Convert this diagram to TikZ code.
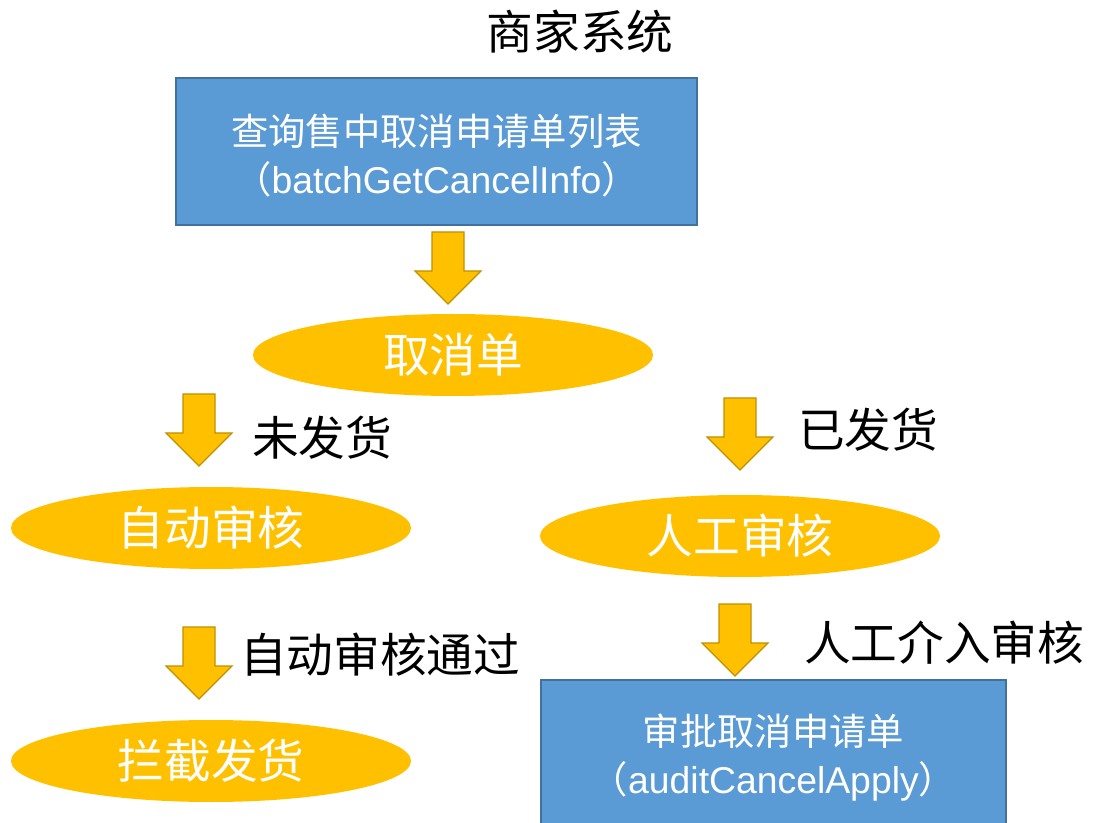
\documentclass[tikz,border=0pt]{standalone}
\usepackage{fontspec}
\setmainfont{Liberation Sans}
\newfontfamily\cjk{Noto Sans CJK SC}
\usetikzlibrary{shapes.geometric}
\definecolor{boxblue}{HTML}{5B9BD5}
\definecolor{boxedge}{HTML}{41719C}
\definecolor{gold}{HTML}{FFC000}
\definecolor{goldedge}{HTML}{BF9000}
\tikzset{
  bluebox/.style={rectangle, fill=boxblue, draw=boxedge, line width=1.5pt, inner sep=0pt},
  oval/.style={ellipse, fill=gold, inner sep=0pt, minimum width=300pt, minimum height=61.5pt,
    text=white, font=\cjk\fontsize{35pt}{40pt}\selectfont},
  boxtext/.style={text=white, align=center, font=\fontsize{28pt}{36pt}\selectfont, inner sep=0pt},
  lbl/.style={anchor=west, inner sep=0pt, text=black, font=\cjk\fontsize{35pt}{40pt}\selectfont},
  arrowshape/.style={fill=gold, draw=goldedge, line width=0.9pt, line join=miter},
  dnarrow/.pic={\draw[arrowshape] (-16,0) -- (16,0) -- (16,39) -- (33,39) -- (0,72) -- (-33,39) -- (-16,39) -- cycle;}
}
\begin{document}
\begin{tikzpicture}[x=0.75pt, y=-0.75pt]
\useasboundingbox (0,0) rectangle (1093,823);
\clip (0,0) rectangle (1093,823);
% title
\node[inner sep=0pt, font=\cjk\fontsize{35pt}{40pt}\selectfont] (title) at (580,32) {商家系统};
% top box
\node[bluebox, minimum width=390.75pt, minimum height=110.25pt] (query) at (436.5,151.5) {};
\node[boxtext] (querytext) at (436.5,156) {{\cjk 查询售中取消申请单列表}\\{\cjk （}batchGetCancelInfo{\cjk ）}};
% arrow 1
\pic (a1) at (448,232) {dnarrow};
\node[oval] (cancel) at (453,355) {取消单};
% branch arrows
\pic (a2) at (199,394) {dnarrow};
\node[lbl] (l2) at (252,438) {未发货};
\pic (a3) at (740,398) {dnarrow};
\node[lbl] (l3) at (798,430) {已发货};
\node[oval] (auto) at (211,528) {自动审核};
\node[oval] (manual) at (740,536) {人工审核};
\pic (a4) at (199,627) {dnarrow};
\node[lbl] (l4) at (240,655) {自动审核通过};
\pic (a5) at (735,604) {dnarrow};
\node[lbl] (l5) at (804,643) {人工介入审核};
\node[oval] (block) at (211,761) {拦截发货};
% bottom box
\node[bluebox, anchor=north, minimum width=348.75pt, minimum height=135pt] (audit) at (773.5,679) {};
\node[boxtext] (audittext) at (773.5,758) {{\cjk 审批取消申请单}\\{\cjk （}auditCancelApply{\cjk ）}};
\end{tikzpicture}
\end{document}
